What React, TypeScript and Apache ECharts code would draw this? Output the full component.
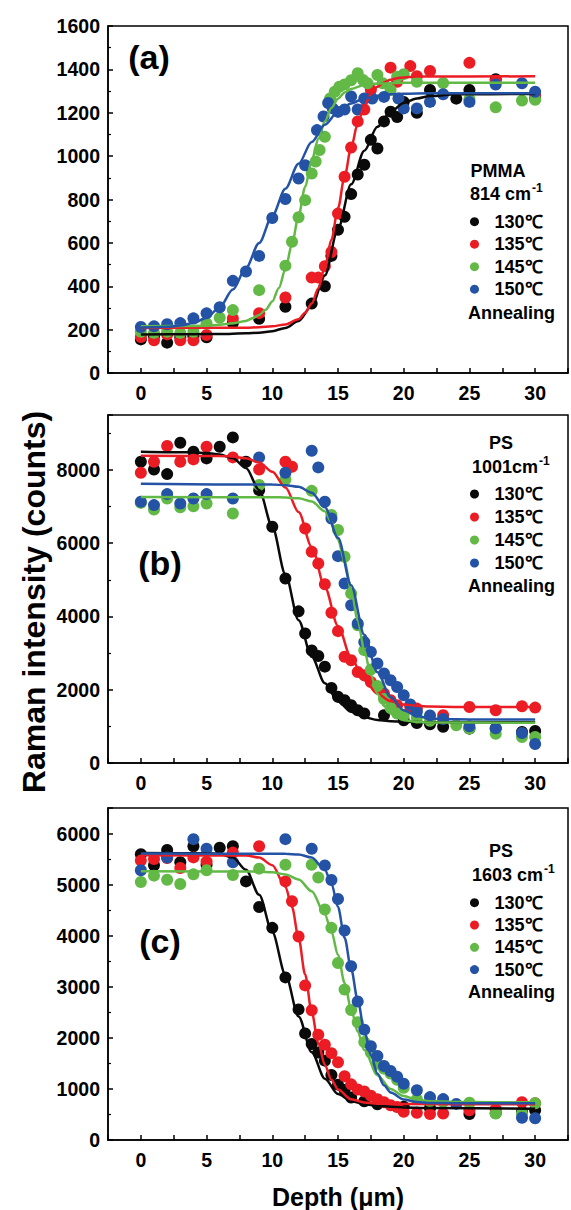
import React, { useEffect, useRef } from "react";
import * as echarts from "echarts";

const FONT = '"Liberation Sans", Arial, sans-serif';
const TEMPS = ["130℃", "135℃", "145℃", "150℃"];
const COLORS = ["#0a0a0a", "#ec1c24", "#62b946", "#2453a6"];
const X_TICKS = [0, 5, 10, 15, 20, 25, 30];

// ---------- Panel (a) PMMA 814 cm-1 ----------
const a130 = [[0,155],[1,170],[2,140],[3,165],[4,170],[5,165],[7,230],[9,250],[11,305],[13,320],[14,400],[14.5,540],[15,660],[15.5,720],[16,825],[16.5,915],[17,960],[17.5,1075],[18,1035],[18.5,1160],[19,1205],[19.5,1180],[20,1250],[21,1200],[22,1305],[24,1265],[25,1305],[27,1355],[30,1265]];
const a135 = [[0,166],[1,151],[2,178],[3,151],[4,151],[5,175],[7,251],[9,276],[11,348],[13,440],[13.5,440],[14,492],[14.5,558],[15,735],[15.5,905],[16,1040],[16.5,1160],[17,1215],[17.5,1305],[19,1408],[19.5,1343],[20.5,1415],[21,1368],[22,1393],[25,1430],[27,1348],[30,1285]];
const a145 = [[0,190],[1,185],[2,190],[3,185],[4,190],[5,228],[6,255],[7,290],[9,382],[11,495],[11.5,605],[12,718],[12.5,797],[13,920],[13.3,975],[13.6,1028],[14,1089],[14.4,1266],[14.75,1297],[15.1,1320],[15.5,1330],[16,1350],[16.5,1382],[16.9,1351],[17.25,1336],[18,1374],[18.4,1336],[19,1305],[19.5,1366],[20,1378],[21,1343],[23,1337],[25,1262],[27,1225],[29,1256],[30,1260]];
const a150 = [[0,212],[1,215],[2,225],[3,230],[4,252],[5,275],[6,303],[7,425],[8,468],[9,540],[10,715],[11,802],[12,897],[12.5,958],[13.4,1120],[13.9,1183],[14.25,1245],[14.6,1220],[15,1204],[15.5,1215],[16,1275],[16.5,1215],[17,1266],[17.6,1266],[18.5,1273],[19.6,1266],[20,1220],[21,1220],[22,1250],[23,1285],[25,1250],[27,1330],[29,1336],[30,1297]];
const aFit130 = [[0,178],[4,179],[6,180],[8,183],[9,186],[10,193],[11,208],[12,240],[13,310],[14,450],[15,665],[16,870],[17,1025],[18,1135],[19,1205],[20,1245],[21,1266],[22,1277],[24,1285],[30,1287]];
const aFit135 = [[0,207],[8,209],[9,211],[10,215],[11,224],[12,248],[12.5,278],[13,320],[13.5,390],[14,490],[14.5,615],[15,760],[15.5,905],[16,1040],[16.5,1150],[17,1230],[17.5,1285],[18,1320],[18.5,1340],[19,1352],[19.5,1359],[20,1363],[21,1367],[30,1368]];
const aFit145 = [[0,215],[5,218],[6,222],[7,229],[8,240],[8.5,252],[9,268],[9.5,292],[10,330],[10.5,392],[11,480],[11.5,595],[12,725],[12.5,858],[13,980],[13.5,1080],[14,1160],[14.5,1222],[15,1265],[15.5,1293],[16,1310],[17,1328],[18,1335],[20,1338],[30,1338]];
const aFit150 = [[0,210],[1,211],[2,213],[3,219],[4,230],[5,255],[6,303],[7,385],[8,485],[9,600],[10,725],[11,850],[12,965],[13,1065],[14,1145],[15,1205],[16,1243],[17,1266],[18,1278],[19,1285],[20,1288],[22,1290],[30,1290]];

// ---------- Panel (b) PS 1001 cm-1 ----------
const b130 = [[0,8224],[1,8014],[2,7887],[3,8743],[4,8497],[5,8315],[6,8633],[7,8888],[8,8224],[9,7449],[10,6448],[11,5036],[12,4140],[12.5,3535],[13,3070],[13.5,2920],[14,2630],[14.5,2050],[15,1810],[15.5,1712],[16,1576],[16.5,1440],[17,1350],[18.5,1303],[20,1167],[21,1093],[22,1056],[23,990],[25,938],[27,940],[29,847],[30,874]];
const b135 = [[0,7923],[1,8224],[2,8652],[3,8224],[4,8288],[5,8633],[7,8342],[9,8014],[11,8224],[11.5,8087],[12.5,6402],[13,5765],[13.5,5446],[14,4880],[14.5,4100],[15,3600],[15.5,2900],[16,2806],[16.5,2486],[17,2396],[17.5,2213],[18,2076],[18.5,1896],[19,1713],[19.5,1576],[20.5,1530],[21,1485],[23,1303],[25,1530],[27,1440],[29,1549],[30,1513]];
const b145 = [[0,7100],[1,6920],[2,7220],[3,6980],[4,7010],[5,7085],[7,6810],[9,7590],[11,7740],[13,7430],[14.5,6770],[15,6360],[15.5,5630],[16,4630],[16.5,3760],[17,3080],[17.5,2550],[18,2100],[18.5,1750],[19,1500],[19.5,1350],[20,1300],[21,1240],[22,1150],[24,1030],[25,940],[27,800],[29,710],[30,710]];
const b150 = [[0,7131],[1,7040],[2,7340],[3,7085],[4,7222],[5,7340],[7,7222],[9,8342],[11,7923],[13,8524],[13.5,8069],[14,7131],[14.5,6675],[15,5646],[15.5,4900],[16,4308],[16.5,3808],[17,3300],[17.5,3033],[18,2716],[18.5,2442],[19,2259],[19.5,2076],[20,1850],[20.5,1600],[21,1400],[22,1300],[23,1200],[25,1000],[27,950],[29,820],[30,520]];
const bFit130 = [[0,8500],[4,8480],[5,8460],[6,8420],[7,8320],[8,8050],[9,7450],[10,6450],[11,5150],[12,3900],[13,2900],[14,2180],[15,1680],[16,1400],[17,1250],[18,1175],[19,1140],[20,1125],[22,1115],[30,1110]];
const bFit135 = [[0,8390],[6,8380],[7,8365],[8,8320],[9,8200],[10,7950],[11,7520],[12,6850],[13,5900],[14,4800],[15,3740],[16,2870],[17,2260],[18,1890],[19,1690],[20,1600],[21,1560],[22,1540],[24,1532],[30,1530]];
const bFit145 = [[0,7260],[10,7255],[11,7248],[12,7225],[13,7140],[14,6870],[14.5,6580],[15,6100],[15.5,5500],[16,4720],[16.5,3900],[17,3080],[17.5,2400],[18,1890],[18.5,1560],[19,1350],[20,1170],[21,1120],[22,1105],[30,1100]];
const bFit150 = [[0,7620],[10,7600],[11,7585],[12,7540],[13,7380],[14,6980],[15,6150],[16,4850],[17,3500],[18,2480],[19,1800],[20,1440],[21,1280],[22,1215],[23,1195],[25,1188],[30,1185]];

// ---------- Panel (c) PS 1603 cm-1 ----------
const c130 = [[0,5596],[1,5380],[2,5677],[3,5440],[4,5752],[5,5390],[6,5721],[7,5752],[8,5063],[9,4562],[10,4154],[11,3183],[12,2557],[12.5,2087],[13,1880],[13.5,1711],[14,1554],[14.5,1272],[15,1084],[15.5,977],[16,833],[17,760],[18,700],[20,650],[22,620],[25,510],[27,530],[29,550],[30,583]];
const c135 = [[0,5470],[1,5500],[2,5520],[3,5326],[4,5533],[5,5451],[7,5627],[9,5752],[11,5063],[11.5,4674],[12,3985],[12.5,3027],[13,2540],[13.5,2060],[14,1866],[14.5,1700],[15,1522],[15.5,1250],[16,1090],[16.5,990],[17,950],[17.5,865],[18,800],[18.5,740],[19,680],[19.5,645],[20,551],[21,532],[22,507],[23,519],[25,583],[27,600],[29,739],[30,720]];
const c145 = [[0,5050],[1,5176],[2,5094],[3,5013],[4,5201],[5,5282],[7,5188],[9,5313],[11,5389],[13,5389],[13.5,5138],[14,4512],[14.5,4154],[15,3465],[15.5,2945],[16,2544],[16.5,2306],[17,1917],[17.5,1711],[18,1491],[18.5,1397],[19,1303],[19.5,1178],[20,1021],[21,800],[22,760],[23,750],[25,730],[27,519],[29,519],[30,720]];
const c150 = [[0,5282],[2,5530],[4,5890],[5,5702],[7,5439],[11,5890],[13,5702],[14,5376],[14.5,5090],[15,4718],[15.5,4103],[16,3402],[16.5,2712],[17,2160],[17.5,1835],[18,1647],[18.5,1450],[19,1350],[19.5,1240],[20,1100],[21,975],[22,840],[23,801],[24,707],[29,437],[30,425]];
const cFit130 = [[0,5620],[5,5615],[6,5600],[7,5530],[8,5290],[9,4800],[10,4070],[11,3240],[12,2420],[13,1720],[14,1200],[15,900],[16,765],[17,700],[18,668],[19,650],[20,638],[22,625],[30,610]];
const cFit135 = [[0,5575],[8,5568],[9,5530],[10,5380],[11,4960],[11.5,4560],[12,3960],[12.5,3240],[13,2500],[13.5,1900],[14,1470],[14.5,1180],[15,990],[16,800],[17,735],[18,712],[20,703],[30,700]];
const cFit145 = [[0,5260],[9,5255],[10,5240],[11,5200],[12,5100],[13,4870],[14,4420],[14.5,4080],[15,3620],[15.5,3080],[16,2560],[16.5,2120],[17,1760],[18,1270],[19,1000],[20,860],[21,790],[22,760],[25,742],[30,740]];
const cFit150 = [[0,5610],[11,5602],[12,5590],[13,5530],[14,5290],[14.5,5020],[15,4560],[15.5,3960],[16,3350],[16.5,2740],[17,2150],[17.5,1660],[18,1300],[18.5,1070],[19,930],[20,795],[21,745],[22,725],[24,720],[30,720]];

const PANELS = [
  {
    points: [a130, a135, a145, a150], fits: [aFit130, aFit135, aFit145, aFit150],
    yMax: 1600, yInterval: 200, top: 26, height: 347,
    tag: "(a)", tagPos: [149, 57],
    title: "PMMA", titleX: 498, titleY: 171,
    wave: "814 cm", waveX: 470, waveY: 194, supX: 532,
    legendRow: 221.7, legendGap: 0.5, annealY: 312.7,
  },
  {
    points: [b130, b135, b145, b150], fits: [bFit130, bFit135, bFit145, bFit150],
    yMax: 9500, yInterval: 2000, top: 415, height: 348,
    tag: "(b)", tagPos: [160, 563],
    title: "PS", titleX: 501, titleY: 443,
    wave: "1001cm", waveX: 472, waveY: 467, supX: 539,
    legendRow: 494, legendGap: 1, annealY: 585.7,
  },
  {
    points: [c130, c135, c145, c150], fits: [cFit130, cFit135, cFit145, cFit150],
    yMax: 6500, yInterval: 1000, top: 808, height: 346,
    tag: "(c)", tagPos: [160, 941],
    title: "PS", titleX: 501, titleY: 851,
    wave: "1603 cm", waveX: 472, waveY: 875, supX: 544,
    legendRow: 902.7, legendGap: 0.3, annealY: 991.7,
  },
];

function buildOption() {
  const grid: any[] = [];
  const xAxis: any[] = [];
  const yAxis: any[] = [];
  const series: any[] = [];
  const legend: any[] = [];
  const graphic: any[] = [];
  const axisLineStyle = { color: "#000", width: 1.5 };
  const labelStyle = { fontSize: 19.5, fontWeight: "bold", color: "#000", fontFamily: FONT };

  PANELS.forEach((p, i) => {
    grid.push({ left: 108, right: -4, top: p.top, height: p.height, show: true, borderColor: "#000", borderWidth: 1.5, backgroundColor: "transparent" });
    xAxis.push({
      gridIndex: i, type: "value", min: -2.5, max: 32.5, interval: 2.5,
      axisLine: { show: true, onZero: false, lineStyle: axisLineStyle },
      axisTick: { inside: true, length: 5, lineStyle: axisLineStyle },
      axisLabel: { ...labelStyle, margin: 10, formatter: (v: number) => (X_TICKS.indexOf(v) >= 0 ? String(v) : "") },
      splitLine: { show: false },
      name: i === 2 ? "Depth (μm)" : "",
      nameLocation: "middle", nameGap: 44,
      nameTextStyle: { fontSize: 25, fontWeight: "bold", color: "#000", fontFamily: FONT },
    });
    yAxis.push({
      gridIndex: i, type: "value", min: 0, max: p.yMax, interval: p.yInterval,
      axisLine: { show: true, onZero: false, lineStyle: axisLineStyle },
      axisTick: { inside: true, length: 5, lineStyle: axisLineStyle },
      minorTick: { show: true, splitNumber: 2, length: 3, lineStyle: { color: "#000", width: 1.2 } },
      axisLabel: { ...labelStyle, margin: 8, formatter: (v: number) => (v % p.yInterval === 0 ? String(v) : "") },
      splitLine: { show: false },
      minorSplitLine: { show: false },
    });
    p.points.forEach((pts, k) => {
      series.push({
        type: "scatter", name: TEMPS[k], xAxisIndex: i, yAxisIndex: i, data: pts,
        symbol: "circle", symbolSize: 12, itemStyle: { color: COLORS[k], opacity: 1 }, z: 2, silent: true,
      });
    });
    p.fits.forEach((pts, k) => {
      series.push({
        type: "line", name: "fit " + "abc"[i] + " " + TEMPS[k], xAxisIndex: i, yAxisIndex: i, data: pts,
        smooth: 0.3, smoothMonotone: "x", symbol: "none", showSymbol: false,
        lineStyle: { color: COLORS[k], width: 2.5 }, z: 3, silent: true,
      });
    });
    legend.push({
      orient: "vertical", left: 470, top: p.legendRow - 11, padding: 0,
      itemWidth: 30, itemHeight: 9, itemGap: p.legendGap, icon: "circle",
      selectedMode: false, data: TEMPS,
      textStyle: { fontSize: 18, fontWeight: "bold", color: "#000", fontFamily: FONT, lineHeight: 22 },
    });
    graphic.push({ type: "text", x: p.tagPos[0], y: p.tagPos[1], style: { text: p.tag, font: `bold 34px ${FONT}`, fill: "#000", textAlign: "center", textVerticalAlign: "middle" } });
    graphic.push({ type: "text", x: p.titleX, y: p.titleY, style: { text: p.title, font: `bold 18px ${FONT}`, fill: "#000", textAlign: "center", textVerticalAlign: "middle" } });
    graphic.push({ type: "text", x: p.waveX, y: p.waveY, style: { text: p.wave, font: `bold 18px ${FONT}`, fill: "#000", textAlign: "left", textVerticalAlign: "middle" } });
    graphic.push({ type: "text", x: p.supX, y: p.waveY - 6, style: { text: "-1", font: `bold 12px ${FONT}`, fill: "#000", textAlign: "left", textVerticalAlign: "middle" } });
    graphic.push({ type: "text", x: 468, y: p.annealY, style: { text: "Annealing", font: `bold 18px ${FONT}`, fill: "#000", textAlign: "left", textVerticalAlign: "middle" } });
  });

  graphic.push({
    type: "text", x: 34, y: 602, rotation: Math.PI / 2,
    style: { text: "Raman intensity (counts)", font: `bold 32px ${FONT}`, fill: "#000", textAlign: "center", textVerticalAlign: "middle" },
  });

  return {
    animation: false,
    backgroundColor: "#fff",
    grid, xAxis, yAxis, series, legend, graphic,
  };
}

export default function App() {
  const ref = useRef<HTMLDivElement>(null);
  useEffect(() => {
    if (!ref.current) return;
    const chart = echarts.init(ref.current, null, { renderer: "svg" });
    chart.setOption(buildOption() as any);
    return () => chart.dispose();
  }, []);
  return <div ref={ref} style={{ position: "absolute", left: 0, top: 0, width: 571, height: 1210 }} />;
}
